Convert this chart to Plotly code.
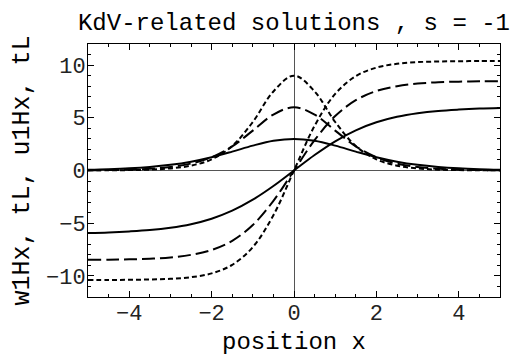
import plotly.graph_objects as go

# sample positions
x = [-5.0, -4.5, -4.0, -3.5, -3.0, -2.5, -2.0, -1.5, -1.0, -0.5, 0.0,
     0.5, 1.0, 1.5, 2.0, 2.5, 3.0, 3.5, 4.0, 4.5, 5.0]

# soliton profiles u1(x, t) for the three amplitudes (right half, x >= 0)
u_a_half = [3.00, 2.82, 2.36, 1.79, 1.26, 0.84, 0.54, 0.34, 0.21, 0.13, 0.08]
u_b_half = [6.00, 5.31, 3.78, 2.29, 1.26, 0.66, 0.33, 0.17, 0.08, 0.04, 0.02]
u_c_half = [9.00, 7.50, 4.60, 2.32, 1.06, 0.46, 0.20, 0.08, 0.04, 0.02, 0.01]

# kink profiles w1(x, t) (right half, x >= 0)
w_a_half = [0.00, 1.47, 2.77, 3.81, 4.57, 5.09, 5.43, 5.65, 5.78, 5.87, 5.92]
w_b_half = [0.00, 2.88, 5.17, 6.67, 7.54, 8.00, 8.25, 8.37, 8.43, 8.46, 8.47]
w_c_half = [0.00, 4.24, 7.27, 8.95, 9.76, 10.12, 10.28, 10.34, 10.37, 10.38, 10.39]


def even(h):
    return h[:0:-1] + h


def odd(h):
    return [-v for v in h[:0:-1]] + h


x_ticks = [-4, -2, 0, 2, 4]
y_ticks = [-10, -5, 0, 5, 10]

FONT = "Liberation Mono"
styles = [
    dict(color="black", width=2, dash="solid"),
    dict(color="black", width=2, dash="13px,5px"),
    dict(color="black", width=2, dash="5px,3px"),
]

fig = go.Figure()
for (uh, wh), st in zip([(u_a_half, w_a_half), (u_b_half, w_b_half), (u_c_half, w_c_half)], styles):
    fig.add_trace(go.Scatter(x=x, y=even(uh), mode="lines", line=dict(shape="spline", **st),
                             showlegend=False, hoverinfo="skip"))
    fig.add_trace(go.Scatter(x=x, y=odd(wh), mode="lines", line=dict(shape="spline", **st),
                             showlegend=False, hoverinfo="skip"))

axis_common = dict(
    automargin=False,
    showgrid=False,
    zeroline=True, zerolinecolor="#555555", zerolinewidth=1,
    showline=True, linecolor="black", linewidth=1, mirror="ticks",
    ticks="inside", ticklen=6, tickwidth=1, tickcolor="black",
    tickfont=dict(family=FONT, size=22, color="#222222"),
)

fig.update_xaxes(range=[-5, 5], tickvals=x_ticks, ticklabelstandoff=-4,
                 minor=dict(dtick=0.5, ticks="inside", ticklen=3, tickcolor="black"),
                 **axis_common)
fig.update_yaxes(range=[-12, 12], tickvals=y_ticks, ticklabelstandoff=-3,
                 minor=dict(dtick=1, ticks="inside", ticklen=3, tickcolor="black"),
                 **axis_common)

# axis titles placed as annotations for exact positioning
fig.add_annotation(text="position x", xref="paper", yref="paper", x=0.5, y=0, yshift=-45,
                   xanchor="center", yanchor="middle", showarrow=False,
                   font=dict(family=FONT, size=24, color="black"))
fig.add_annotation(text="w1Hx, tL, u1Hx, tL", xref="paper", yref="paper", x=0, y=0.5, xshift=-66,
                   textangle=-90, xanchor="center", yanchor="middle", showarrow=False,
                   font=dict(family=FONT, size=25, color="black"))

fig.update_layout(
    width=517, height=356,
    margin=dict(l=88, r=17, t=44, b=59),
    paper_bgcolor="white", plot_bgcolor="white",
    title=dict(text="KdV-related solutions , s = -1", x=0.5, xref="paper", xanchor="center",
               y=0.962, yref="container", font=dict(family=FONT, size=24, color="black")),
)

fig.write_html("out.html")
